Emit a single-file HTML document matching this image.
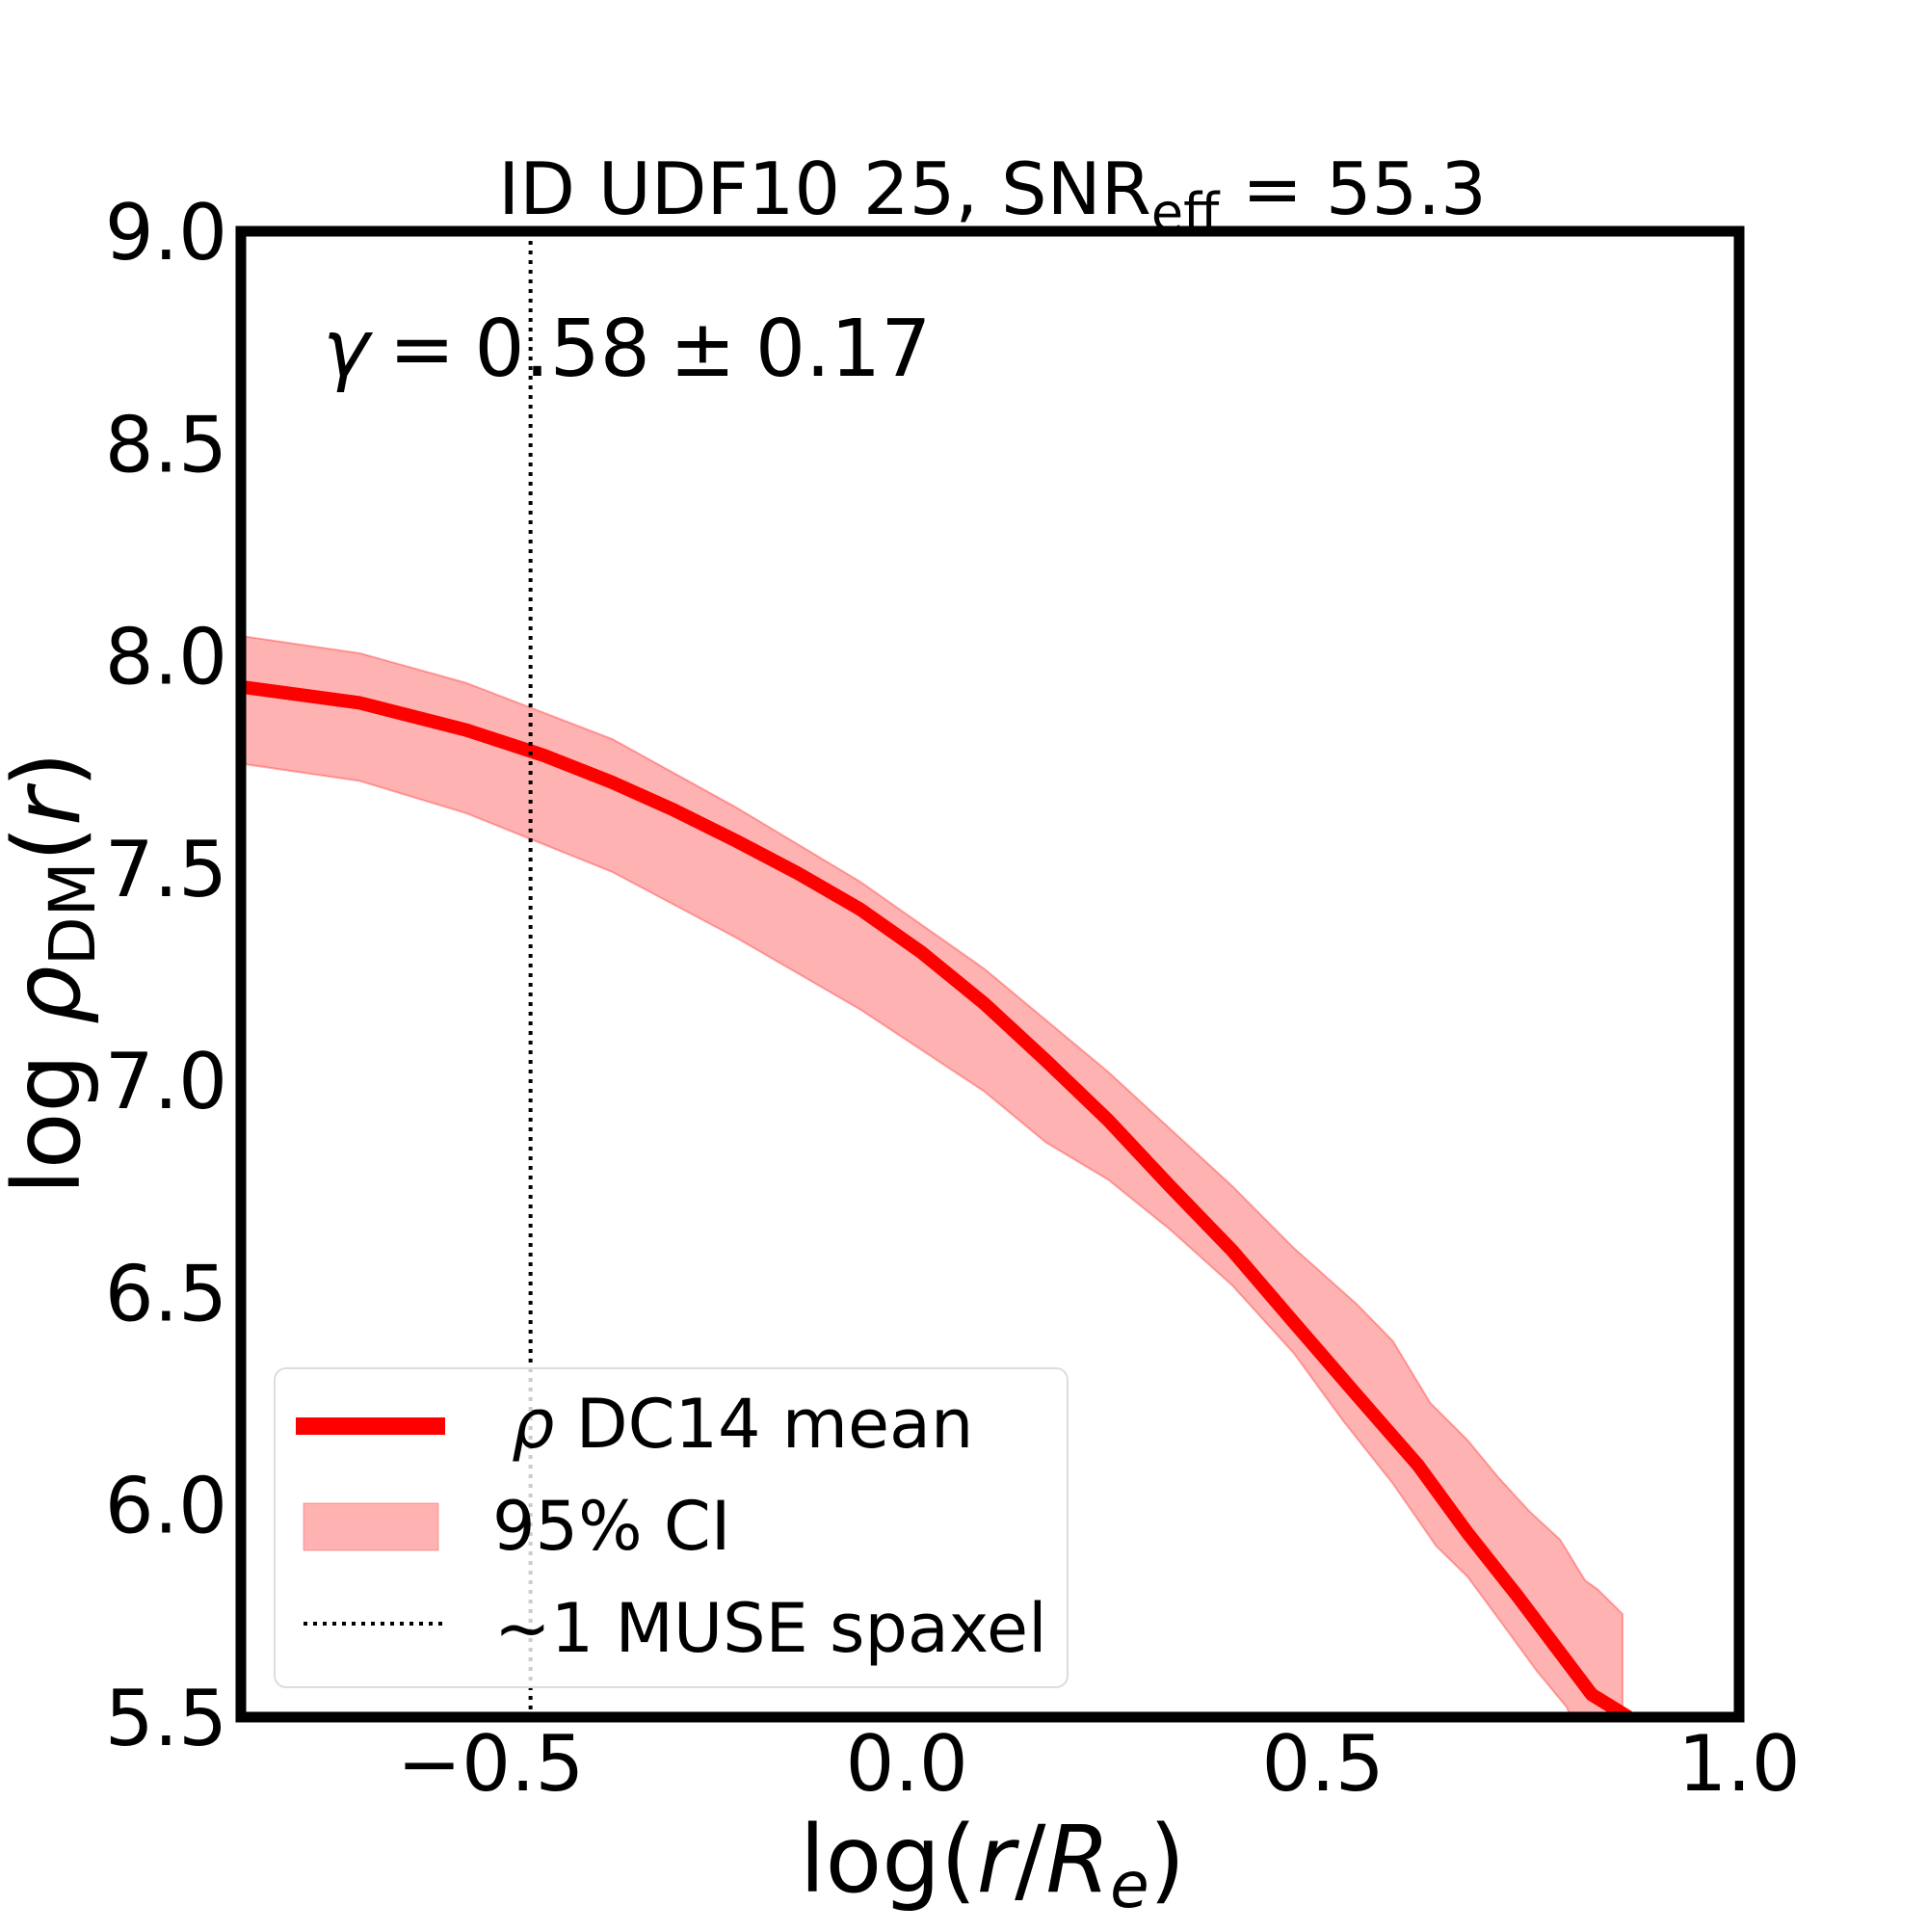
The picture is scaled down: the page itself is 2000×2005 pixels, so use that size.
<!DOCTYPE html>
<html><head><meta charset="utf-8"><style>
html,body{margin:0;padding:0;background:#fff}
svg text{font-family:"DejaVu Sans","Liberation Sans",sans-serif;fill:#000}
</style></head><body>
<svg id="chart" width="2000" height="2000" viewBox="0 0 2000 2000" xmlns="http://www.w3.org/2000/svg">
<defs><clipPath id="clip"><rect x="250" y="240" width="1555" height="1542"/></clipPath></defs>
<g id="plot" clip-path="url(#clip)"></g>
<g id="axes"></g>
<text x="1030" y="222" font-size="75" text-anchor="middle">ID UDF10 25, SNR<tspan font-size="54" dy="17">eff</tspan><tspan dy="-17"> = 55.3</tspan></text>
<text x="335" y="390" font-size="82"><tspan font-style="italic">γ</tspan><tspan dx="-6"> =</tspan><tspan dx="-6"> 0.58</tspan><tspan dx="-6"> ±</tspan><tspan dx="-6"> 0.17</tspan></text>
<text x="1030" y="1963" font-size="96" text-anchor="middle">log(<tspan font-style="italic">r</tspan>/<tspan font-style="italic">R</tspan><tspan font-style="italic" font-size="66" dy="16">e</tspan><tspan dy="-16">)</tspan></text>
<text transform="translate(82,1010) rotate(-90)" font-size="96" text-anchor="middle">log <tspan font-style="italic">ρ</tspan><tspan font-size="66" dy="16">DM</tspan><tspan dy="-16">(</tspan><tspan font-style="italic">r</tspan>)</text>
<g>
<rect x="285" y="1420" width="823" height="331" rx="12" fill="#fff" fill-opacity="0.8" stroke="#ddd" stroke-width="2"/>
<line x1="307" y1="1480" x2="462" y2="1480" stroke="#ff0000" stroke-width="18"/>
<text x="531" y="1502" font-size="70"><tspan font-style="italic">ρ</tspan> DC14 mean</text>
<rect x="315" y="1560" width="140" height="49" fill="#ff0000" fill-opacity="0.3" stroke="#ff0000" stroke-opacity="0.3"/>
<text x="511" y="1608" font-size="70">95% CI</text>
<line x1="315" y1="1685" x2="462" y2="1685" stroke="#000" stroke-width="4" stroke-dasharray="4,6"/>
<text x="513" y="1714" font-size="70">~1 MUSE spaxel</text>
</g>
</svg>
<script>
const xTicks=[-0.5,0.0,0.5,1.0];
const xTickLabels=["−0.5","0.0","0.5","1.0"];
const yTicks=[5.5,6.0,6.5,7.0,7.5,8.0,8.5,9.0];
const yTickLabels=["5.5","6.0","6.5","7.0","7.5","8.0","8.5","9.0"];
const meanX=[-0.8,-0.657,-0.529,-0.437,-0.354,-0.280,-0.205,-0.131,-0.056,0.018,0.093,0.167,0.242,0.316,0.391,0.465,0.540,0.614,0.674,0.733,0.778,0.823,0.867];
const meanY=[7.927,7.889,7.825,7.766,7.702,7.637,7.564,7.488,7.403,7.301,7.181,7.047,6.906,6.751,6.599,6.430,6.260,6.094,5.933,5.787,5.670,5.553,5.50];
const upperX=[-0.8,-0.657,-0.529,-0.354,-0.205,-0.056,0.093,0.242,0.391,0.465,0.540,0.584,0.629,0.674,0.711,0.748,0.785,0.815,0.830,0.860,0.860];
const upperY=[8.047,8.006,7.936,7.804,7.643,7.468,7.263,7.020,6.751,6.605,6.474,6.386,6.240,6.152,6.064,5.985,5.918,5.822,5.801,5.743,5.45];
const lowerX=[-0.8,-0.657,-0.529,-0.354,-0.205,-0.056,0.093,0.167,0.242,0.316,0.391,0.465,0.525,0.584,0.636,0.674,0.718,0.756,0.793,0.808];
const lowerY=[7.746,7.705,7.629,7.491,7.336,7.167,6.974,6.854,6.766,6.649,6.517,6.357,6.196,6.050,5.903,5.830,5.713,5.611,5.523,5.45];
const spaxelX=-0.452;
const X0=250,X1=1805,Y0=1782,Y1=240,xmin=-0.8,xmax=1.0,ymin=5.5,ymax=9.0;
const sx=v=>X0+(v-xmin)/(xmax-xmin)*(X1-X0);
const sy=v=>Y0-(v-ymin)/(ymax-ymin)*(Y0-Y1);
const NS="http://www.w3.org/2000/svg";
const plot=document.getElementById('plot'),axes=document.getElementById('axes');
function mk(t,a){const e=document.createElementNS(NS,t);for(const k in a)e.setAttribute(k,a[k]);return e;}
let d="M"+upperX.map((x,i)=>sx(x)+","+sy(upperY[i])).join("L");
for(let i=lowerX.length-1;i>=0;i--)d+="L"+sx(lowerX[i])+","+sy(lowerY[i]);
d+="Z";
const band=mk('path',{d:d,fill:'#ff0000','fill-opacity':'0.3',stroke:'#ff0000','stroke-opacity':'0.3','stroke-width':'2','stroke-linejoin':'round'});


plot.appendChild(band);
const line=mk('path',{d:"M"+meanX.map((x,i)=>sx(x)+","+sy(meanY[i])).join("L"),fill:'none',stroke:'#ff0000','stroke-width':'14','stroke-linejoin':'round'});


plot.appendChild(line);
const vl=mk('line',{x1:sx(spaxelX),x2:sx(spaxelX),y1:Y1,y2:Y0,stroke:'#000','stroke-width':'4','stroke-dasharray':'4,6'});


plot.appendChild(vl);
const frame=mk('rect',{x:X0,y:Y1,width:X1-X0,height:Y0-Y1,fill:'none',stroke:'#000','stroke-width':'11'});


axes.appendChild(frame);
xTicks.forEach((v,i)=>{const t=mk('text',{x:sx(v),y:1858,'font-size':'80','text-anchor':'middle'});t.textContent=xTickLabels[i];


axes.appendChild(t);});
yTicks.forEach((v,i)=>{const t=mk('text',{x:236,y:sy(v)+29,'font-size':'80','text-anchor':'end'});t.textContent=yTickLabels[i];


axes.appendChild(t);});
</script>
</body></html>
